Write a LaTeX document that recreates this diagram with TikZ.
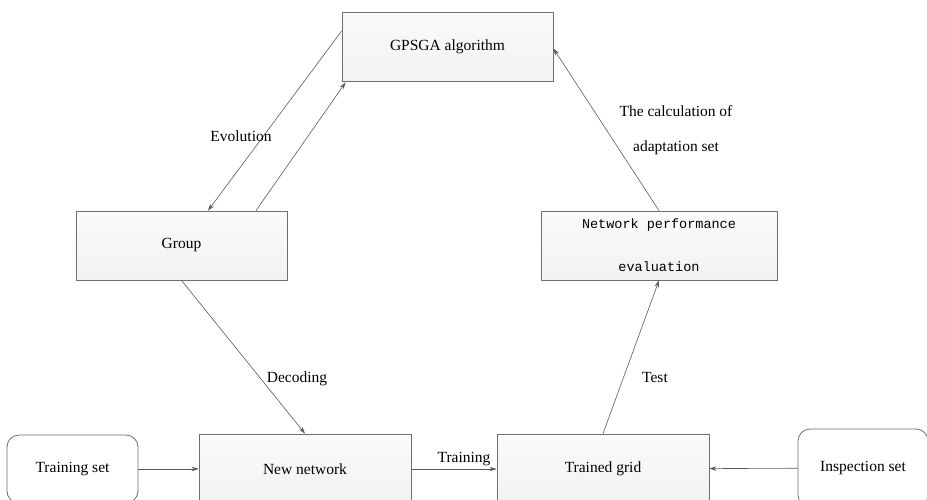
\documentclass[tikz,border=0pt]{standalone}
\usepackage{fontspec}
\setmainfont{Liberation Serif}
\newfontfamily\monofont{Liberation Mono}
\usetikzlibrary{arrows.meta,positioning}
\definecolor{boxLine}{HTML}{6E6E6E}
\definecolor{flowGray}{HTML}{5A5A5A}

\begin{document}
\begin{tikzpicture}[x=1pt,y=-1pt,>=Stealth]
\tikzstyle{box}=[draw=boxLine,line width=.8pt,top color=black!2,bottom color=black!5,inner sep=0pt,minimum height=69pt,align=center,font=\fontsize{15.5}{18}\selectfont]
\tikzstyle{setbox}=[box,rounded corners=12pt,top color=white,bottom color=white]
\tikzstyle{flow}=[->,draw=flowGray,line width=.6pt,-{Stealth[length=7pt,width=4.5pt]}]
\tikzstyle{lbl}=[inner sep=0pt,font=\fontsize{15.5}{35}\selectfont,align=center]
\clip (0,0) rectangle (927,499);
\node[box,minimum width=211pt] (gpsga) at (447.5,46.5) {GPSGA algorithm};
\node[box,minimum width=211pt] (group) at (181.5,245.5) {Group};
\node[box,minimum width=236pt,font=\monofont\fontsize{13.5}{43}\selectfont] (perf) at (659,245.5) {Network performance\\evaluation};
\node[setbox,minimum width=131pt,minimum height=68pt] (trainset) at (72.5,469) {\raisebox{-5pt}{Training set}};
\node[box,minimum width=212pt,minimum height=70pt] (newnet) at (305,469) {\raisebox{-3pt}{New network}};
\node[box,minimum width=212pt,minimum height=70pt] (trained) at (603,469) {\raisebox{-4pt}{Trained grid}};
\node[setbox,minimum width=130pt,minimum height=78pt] (insp) at (863,468) {\raisebox{-5pt}{Inspection set}};
% connectors
\draw[flow] ([yshift=15.5pt]gpsga.west) -- ([xshift=26.5pt]group.north);
\draw[flow] ([xshift=74.5pt]group.north) -- ([xshift=4pt,yshift=-1pt]gpsga.south west);
\draw[flow] (group.south) -- (newnet.north);
\foreach \x/\y in {trainset/newnet,newnet/trained,insp/trained}{\draw[flow] (\x) -- (\y);}
\draw[flow] (trained.north) -- (perf.south);
\draw[flow] (perf.north) -- ([yshift=-2pt]gpsga.east);
% labels
\node[lbl] (evo) at (241,136) {Evolution};
\node[lbl] (dec) at (297,379) {Decoding};
\node[lbl] (trn) at (464,459) {Training};
\node[lbl] (tst) at (655,377) {Test};
\node[lbl] (calc) at (676,130) {The calculation of\\adaptation set};
\end{tikzpicture}
\end{document}
